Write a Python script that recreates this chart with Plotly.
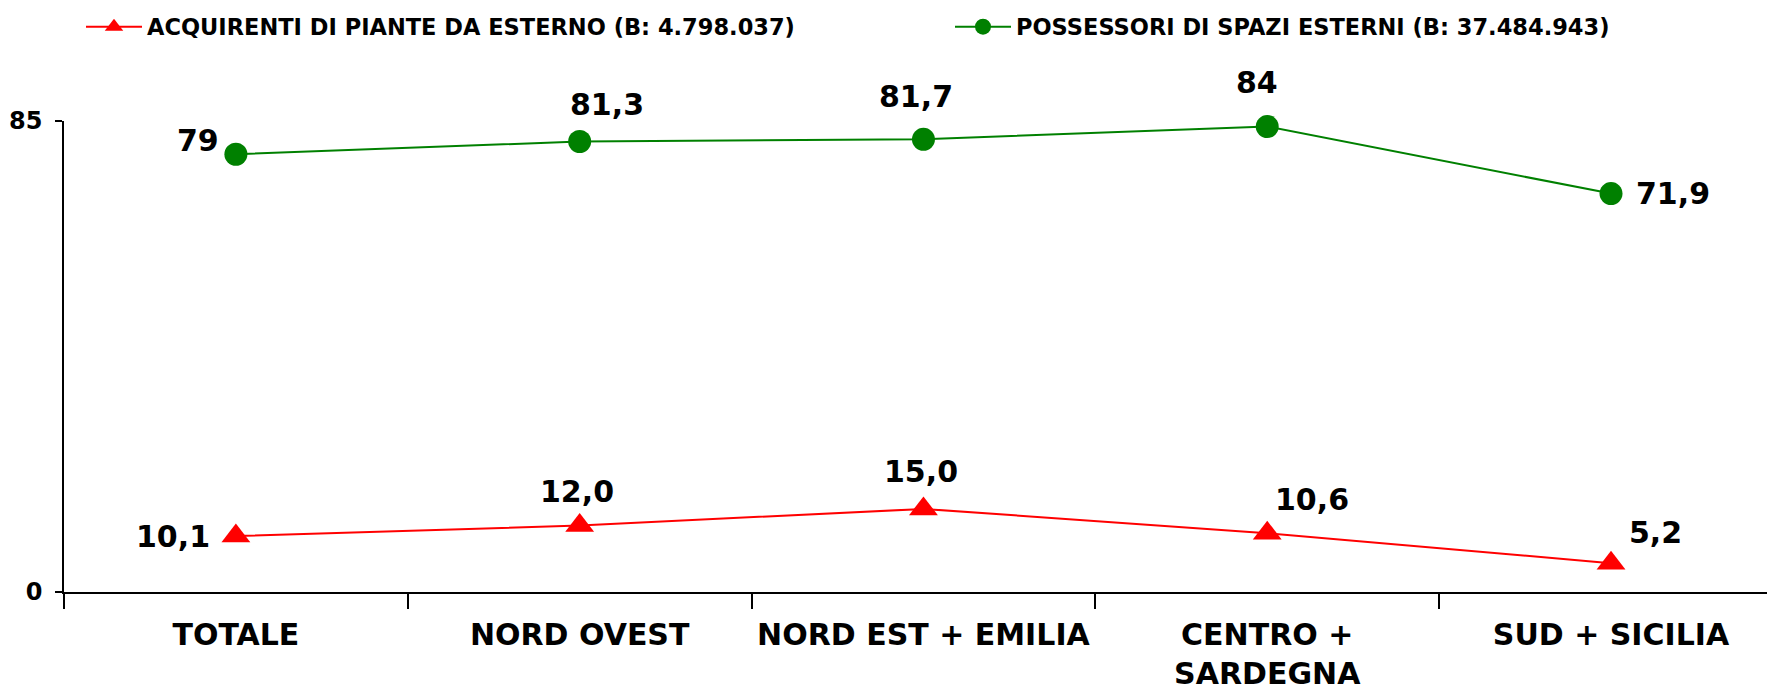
import plotly.graph_objects as go

categories = ["TOTALE", "NORD OVEST", "NORD EST + EMILIA", "CENTRO +<br>SARDEGNA", "SUD + SICILIA"]
acquirenti = [10.1, 12.0, 15.0, 10.6, 5.2]
acquirenti_labels = ["10,1", "12,0", "15,0", "10,6", "5,2"]
possessori = [79, 81.3, 81.7, 84, 71.9]
possessori_labels = ["79", "81,3", "81,7", "84", "71,9"]
y_ticks = [0, 85]

name_red = "ACQUIRENTI DI PIANTE DA ESTERNO (B: 4.798.037)"
name_green = "POSSESSORI DI SPAZI ESTERNI (B: 37.484.943)"

FONT = "DejaVu Sans"
W, H = 1767, 684

fig = go.Figure()
fig.add_trace(go.Scatter(
    x=categories, y=acquirenti, name=name_red, mode="lines+markers",
    line=dict(color="#FF0000", width=2),
    marker=dict(symbol="triangle-up", size=25, color="#FF0000"),
    cliponaxis=False, legend="legend",
))
fig.add_trace(go.Scatter(
    x=categories, y=possessori, name=name_green, mode="lines+markers",
    line=dict(color="#008000", width=2),
    marker=dict(symbol="circle", size=23, color="#008000"),
    cliponaxis=False, legend="legend2",
))

# label offsets (pixels) relative to each point
green_off = [(-38, 14), (27, 37), (-7, 43), (-10, 44), (62, 0)]
red_off = [(-63, 0), (-3, 34), (-2, 37), (45, 34), (44, 31)]

label_font = dict(family=FONT, size=30, color="black", weight="bold")
annotations = []
for cat, v, t, (dx, dy) in zip(categories, possessori, possessori_labels, green_off):
    annotations.append(dict(x=cat, y=v, text=t, showarrow=False, xshift=dx, yshift=dy, font=label_font))
for cat, v, t, (dx, dy) in zip(categories, acquirenti, acquirenti_labels, red_off):
    annotations.append(dict(x=cat, y=v, text=t, showarrow=False, xshift=dx, yshift=dy, font=label_font))

legend_common = dict(
    orientation="h", xref="container", yref="container", y=1 - 19 / H,
    xanchor="left", yanchor="middle",
    font=dict(family=FONT, size=22.5, color="black", weight="bold"),
    itemwidth=56, bgcolor="rgba(0,0,0,0)",
)

fig.update_layout(
    width=W, height=H,
    margin=dict(l=56, r=0, t=113, b=100, autoexpand=False),
    paper_bgcolor="white", plot_bgcolor="white",
    font=dict(family=FONT, color="black"),
    showlegend=True,
    legend=dict(x=73 / W, **legend_common),
    legend2=dict(x=942 / W, **legend_common),
    annotations=annotations,
    xaxis=dict(
        type="category", range=[-0.5, 4.477], automargin=False,
        showline=True, linecolor="black", linewidth=2,
        ticks="outside", tickson="boundaries", ticklen=15, tickcolor="black", tickwidth=1.5,
        ticklabelstandoff=15,
        showgrid=False, zeroline=False,
        tickfont=dict(family=FONT, size=30, color="black", weight="bold"),
    ),
    yaxis=dict(
        range=[0, 85], tickmode="array", tickvals=y_ticks, automargin=False,
        showline=True, linecolor="black", linewidth=1.5,
        ticks="outside", ticklen=7, tickcolor="black", tickwidth=1.5,
        ticklabelstandoff=8,
        showgrid=False, zeroline=False,
        tickfont=dict(family=FONT, size=24, color="black", weight="bold"),
    ),
)

fig.write_html("out.html")
